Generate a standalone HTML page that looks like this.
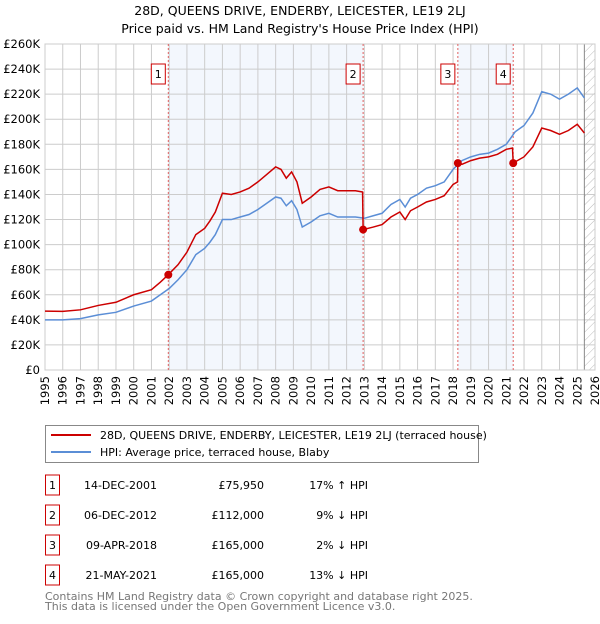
<!DOCTYPE html>
<html><head><meta charset="utf-8"><style>
body{margin:0;background:#fff;font-family:"DejaVu Sans","Liberation Sans",sans-serif}
</style></head><body>
<svg id="chart" width="600" height="620" viewBox="0 0 600 620" xmlns="http://www.w3.org/2000/svg" font-family="DejaVu Sans, Liberation Sans, sans-serif">
<text x="300" y="15" font-size="12.5" text-anchor="middle">28D, QUEENS DRIVE, ENDERBY, LEICESTER, LE19 2LJ</text>
<text x="300" y="33" font-size="12.5" text-anchor="middle">Price paid vs. HM Land Registry's House Price Index (HPI)</text>
<defs><pattern id="hatch" width="6" height="6" patternUnits="userSpaceOnUse" patternTransform="rotate(45)"><line x1="0" y1="0" x2="0" y2="6" stroke="#bbb" stroke-width="1"/></pattern></defs>
<g id="plot"></g>
<g>
<rect x="45.5" y="425.5" width="433" height="37" fill="#fff" stroke="#888"/>
<line x1="51" y1="435" x2="91" y2="435" stroke="#cc0000" stroke-width="2"/>
<text x="100" y="439" font-size="11">28D, QUEENS DRIVE, ENDERBY, LEICESTER, LE19 2LJ (terraced house)</text>
<line x1="51" y1="452" x2="91" y2="452" stroke="#5b8ed6" stroke-width="2"/>
<text x="100" y="456" font-size="11">HPI: Average price, terraced house, Blaby</text>
</g>
<g id="table" font-size="11"></g>
<text x="45" y="600" font-size="11" fill="#777">Contains HM Land Registry data © Crown copyright and database right 2025.</text>
<text x="45" y="610" font-size="11" fill="#777">This data is licensed under the Open Government Licence v3.0.</text>
</svg>
<script>
const yTicks=[0,20,40,60,80,100,120,140,160,180,200,220,240,260];
const yTickLabels=["£0","£20K","£40K","£60K","£80K","£100K","£120K","£140K","£160K","£180K","£200K","£220K","£240K","£260K"];
const xYears=[1995,1996,1997,1998,1999,2000,2001,2002,2003,2004,2005,2006,2007,2008,2009,2010,2011,2012,2013,2014,2015,2016,2017,2018,2019,2020,2021,2022,2023,2024,2025,2026];
const hpiT=[1995,1996,1997,1998,1999,2000,2001,2001.5,2002,2002.5,2003,2003.5,2004,2004.3,2004.6,2005,2005.5,2006,2006.5,2007,2007.5,2008,2008.3,2008.6,2008.9,2009.2,2009.5,2010,2010.5,2011,2011.5,2012,2012.5,2013,2013.5,2014,2014.5,2015,2015.3,2015.6,2016,2016.5,2017,2017.5,2018,2018.5,2019,2019.5,2020,2020.5,2021,2021.5,2022,2022.5,2023,2023.5,2024,2024.5,2025,2025.4];
const hpiV=[40,40,41,44,46,51,55,60,65,72,80,92,97,102,108,120,120,122,124,128,133,138,137,131,135,128,114,118,123,125,122,122,122,121,123,125,132,136,130,137,140,145,147,150,160,167,170,172,173,176,180,190,195,205,222,220,216,220,225,217];
const priceT=[1995,1996,1997,1998,1999,2000,2001,2001.5,2001.95,2002.5,2003,2003.5,2004,2004.3,2004.6,2005,2005.5,2006,2006.5,2007,2007.5,2008,2008.3,2008.6,2008.9,2009.2,2009.5,2010,2010.5,2011,2011.5,2012,2012.5,2012.9,2012.93,2013.5,2014,2014.5,2015,2015.3,2015.6,2016,2016.5,2017,2017.5,2018,2018.25,2018.27,2018.5,2019,2019.5,2020,2020.5,2021,2021.35,2021.39,2021.5,2022,2022.5,2023,2023.5,2024,2024.5,2025,2025.4];
const priceV=[47,46.8,48,51.5,54,60,64,70,76,84,94,108,113,119,126,141,140,142,145,150,156,162,160,153,158,150,133,138,144,146,143,143,143,142,112,114,116,122,126,120,127,130,134,136,139,148,150,165,164,167,169,170,172,176,177,165,166,170,178,193,191,188,191,196,189];
const saleLabels=["1","2","3","4"];
const saleT=[2001.95,2012.93,2018.27,2021.39];
const saleV=[75.95,112,165,165];
const saleDates=["14-DEC-2001","06-DEC-2012","09-APR-2018","21-MAY-2021"];
const salePrices=["£75,950","£112,000","£165,000","£165,000"];
const saleHpi=["17% ↑ HPI","9% ↓ HPI","2% ↓ HPI","13% ↓ HPI"];
const NS="http://www.w3.org/2000/svg";
const L=45,R=595,T=44,B=370,x0=1995,x1=2026,yMax=260;
const X=t=>L+(t-x0)/(x1-x0)*(R-L);
const Y=v=>B-v/yMax*(B-T);
const plot=document.getElementById('plot');
function mk(tag,attrs,parent){const e=document.createElementNS(NS,tag);for(const k in attrs)e.setAttribute(k,attrs[k]);(parent||plot).appendChild(e);return e;}
let e;
e=mk('rect',{x:L,y:T,width:R-L,height:B-T,fill:'#fff'});


e=mk('rect',{x:X(saleT[0]),y:T,width:X(saleT[1])-X(saleT[0]),height:B-T,fill:'#eef3fc',opacity:0.7});


e=mk('rect',{x:X(saleT[2]),y:T,width:X(saleT[3])-X(saleT[2]),height:B-T,fill:'#eef3fc',opacity:0.7});


e=mk('rect',{x:X(2025.4),y:T,width:R-X(2025.4),height:B-T,fill:'url(#hatch)'});


yTicks.forEach((v,i)=>{
 e=mk('line',{x1:L,x2:R,y1:Y(v),y2:Y(v),stroke:'#ccc','stroke-width':1});
 
 
 e=mk('text',{x:L-5,y:Y(v)+4,'font-size':11.5,'text-anchor':'end'});e.textContent=yTickLabels[i];
 
 
});
xYears.forEach(t=>{
 e=mk('line',{x1:X(t),x2:X(t),y1:T,y2:B,stroke:'#ccc','stroke-width':1});
 
 
 e=mk('text',{x:0,y:0,'font-size':11.5,'text-anchor':'end',transform:'translate('+(X(t)+4)+',376) rotate(-90)'});e.textContent=t;
 
 
});
e=mk('line',{x1:X(2025.4),x2:X(2025.4),y1:T,y2:B,stroke:'#888','stroke-width':1});


e=mk('rect',{x:L,y:T,width:R-L,height:B-T,fill:'none',stroke:'#ccc'});


saleT.forEach((t,i)=>{
 e=mk('line',{x1:X(t),x2:X(t),y1:T,y2:B,stroke:'#e06060','stroke-width':1,'stroke-dasharray':'2,2'});
 
 
 e=mk('rect',{x:X(t)-17,y:64,width:14,height:20,fill:'#fff',stroke:'#cc0000'});
 
 
 e=mk('text',{x:X(t)-10,y:78,'font-size':11,'text-anchor':'middle'});e.textContent=saleLabels[i];
 
 
});
e=mk('polyline',{points:hpiT.map((t,i)=>X(t)+','+Y(hpiV[i])).join(' '),fill:'none',stroke:'#5b8ed6','stroke-width':1.5});


e=mk('polyline',{points:priceT.map((t,i)=>X(t)+','+Y(priceV[i])).join(' '),fill:'none',stroke:'#cc0000','stroke-width':1.5});


saleT.forEach((t,i)=>{
 e=mk('circle',{cx:X(t),cy:Y(saleV[i]),r:4,fill:'#cc0000'});
 
 
});
const tb=document.getElementById('table');
saleLabels.forEach((lab,i)=>{
 const cy=485+i*30;
 e=mk('rect',{x:45.5,y:cy-10,width:14,height:20,fill:'#fff',stroke:'#cc0000'},tb);
 
 
 e=mk('text',{x:52.5,y:cy+4,'text-anchor':'middle'},tb);e.textContent=lab;
 
 
 e=mk('text',{x:157,y:cy+4,'text-anchor':'end'},tb);e.textContent=saleDates[i];
 
 
 e=mk('text',{x:264,y:cy+4,'text-anchor':'end'},tb);e.textContent=salePrices[i];
 
 
 e=mk('text',{x:368,y:cy+4,'text-anchor':'end'},tb);e.textContent=saleHpi[i];
 
 
});
</script>
</body></html>
